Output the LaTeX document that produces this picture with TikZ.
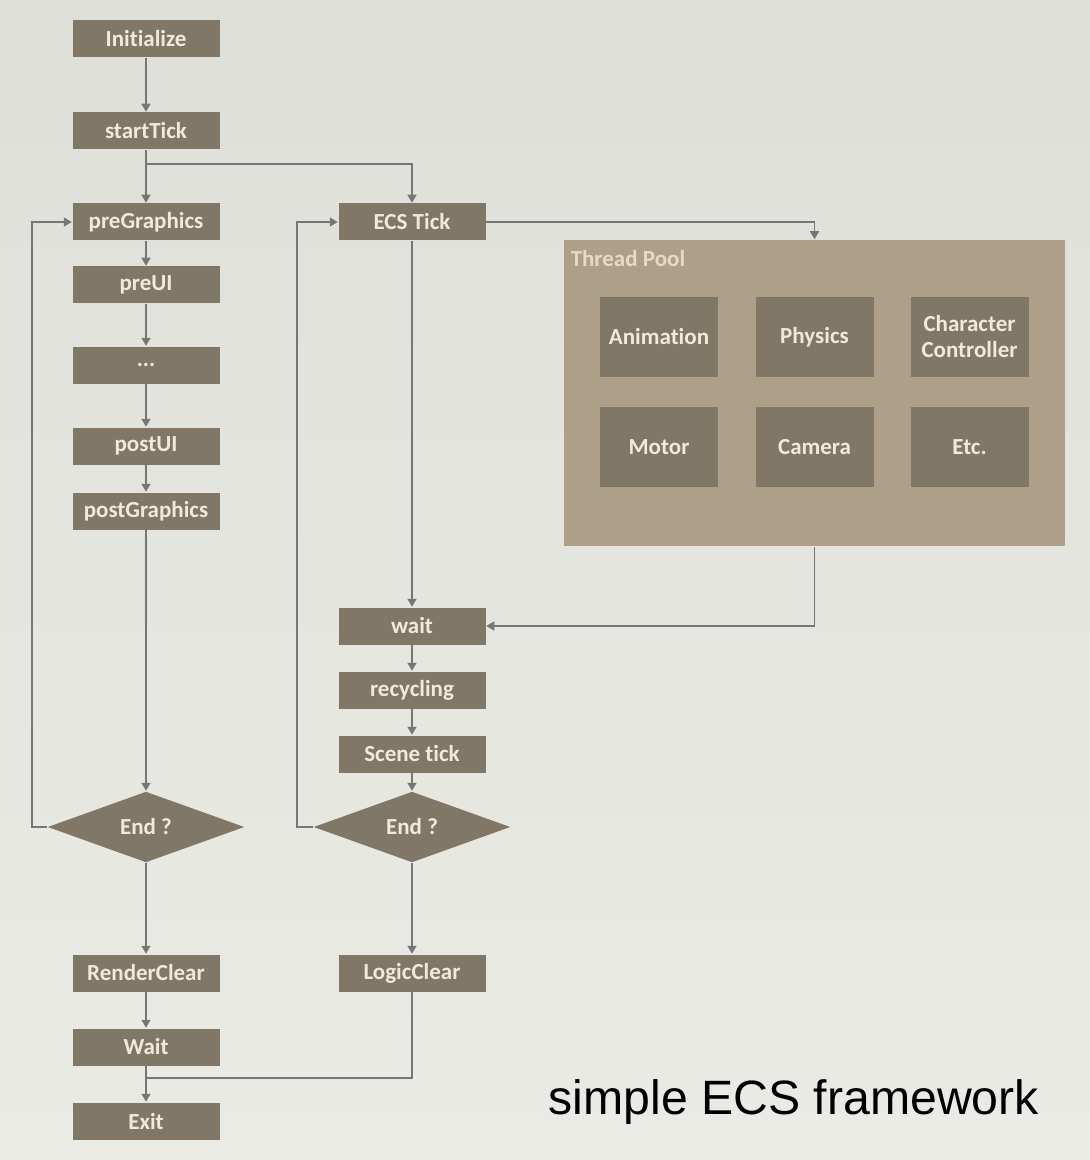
\documentclass[tikz,border=0pt]{standalone}
\usepackage{fontspec}
\setmainfont{Carlito}[Ligatures=NoCommon]
\newfontfamily\titlefont{Liberation Sans}
\usetikzlibrary{positioning,shapes.geometric,arrows.meta}
\definecolor{bgtop}{HTML}{DFDFDA}
\definecolor{bgbottom}{HTML}{EBEBE6}
\definecolor{boxfill}{HTML}{807766}
\definecolor{boxtext}{HTML}{F2EAD8}
\definecolor{poolfill}{HTML}{AEA088}
\definecolor{pooltext}{HTML}{E6DAC2}
\definecolor{linecol}{HTML}{767676}

\begin{document}
\begin{tikzpicture}
	[x=0.5pt, y=-0.5pt, line width=0.75pt,
	every node/.style={font=\bfseries\fontsize{11.5}{13}\selectfont, text=boxtext},
	stepbox/.style={fill=boxfill, minimum width=73.5pt, minimum height=18.5pt, inner sep=0pt},
	taskbox/.style={fill=boxfill, minimum width=59pt, minimum height=40pt, inner sep=0pt, align=center},
	decide/.style={diamond, fill=boxfill, minimum width=98.5pt, minimum height=35.5pt, inner sep=0pt},
	pool/.style={fill=poolfill, minimum width=250.5pt, minimum height=153pt, inner sep=0pt},
	line/.style={draw=linecol},
	flow/.style={line, -{Triangle[width=4.5pt,length=4pt]}}]

	% background
	\fill[top color=bgtop, bottom color=bgbottom] (0,0) rectangle (1090,1160);
	\useasboundingbox (0,0) rectangle (1090,1160);

	% render loop
	\node[stepbox] (init) at (146,39) {Initialize};
	\node[stepbox] (start) at (146,131) {startTick};
	\node[stepbox] (preG) at (146,222) {preGraphics};
	\node[stepbox] (preUI) at (146,285) {preUI};
	\node[stepbox] (dots) at (146,365) {...};
	\node[stepbox] (postUI) at (146,446) {postUI};
	\node[stepbox] (postG) at (146,511) {postGraphics};
	\node[decide] (endL) at (146,827) {End ?};
	\node[stepbox] (render) at (146,973) {RenderClear};
	\node[stepbox] (waitL) at (146,1047) {Wait};
	\node[stepbox] (exit) at (146,1121) {Exit};

	% logic loop
	\node[stepbox] (ecs) at (412,222) {ECS Tick};
	\node[stepbox] (wait) at (412,626) {wait};
	\node[stepbox] (recyc) at (412,690) {recycling};
	\node[stepbox] (scene) at (412,754) {Scene tick};
	\node[decide] (endM) at (412,827) {End ?};
	\node[stepbox] (logic) at (412,973) {LogicClear};

	% thread pool
	\node[pool] (pool) at (814.5,393) {};
	\node[anchor=north west, text=pooltext, inner sep=0pt] (pooltitle) at (570,250) {Thread Pool};
	\node[taskbox] (anim) at (659,337) {Animation};
	\node[taskbox] (phys) at (814.5,337) {Physics};
	\node[taskbox] (chara) at (969.5,337) {Character\\Controller};
	\node[taskbox] (motor) at (659,447) {Motor};
	\node[taskbox] (cam) at (814.5,447) {Camera};
	\node[taskbox] (etc) at (969.5,447) {Etc.};

	\node[anchor=base west, text=black, inner sep=0pt, font=\titlefont\fontsize{24.1}{28}\selectfont] (title) at (548,1114) {simple ECS framework};

	% connectors
	\draw[flow] (init) -- (start);
	\draw[flow] (start) -- (preG);
	\draw[flow] (start.south) -- ++(0,14) -| (ecs.north);
	\draw[flow] (preG) -- (preUI);
	\draw[flow] (preUI) -- (dots);
	\draw[flow] (dots) -- (postUI);
	\draw[flow] (postUI) -- (postG);
	\draw[flow] (postG) -- (endL);
	\draw[flow] (endL.west) -- ++(-15,0) |- (preG.west);
	\draw[flow] (endL) -- (render);
	\draw[flow] (render) -- (waitL);
	\draw[flow] (waitL) -- (exit);

	\draw[flow] (ecs.east) -| (pool.north);
	\draw[flow] (ecs) -- (wait);
	\draw[flow] (pool.south) |- (wait.east);
	\draw[flow] (wait) -- (recyc);
	\draw[flow] (recyc) -- (scene);
	\draw[flow] (scene) -- (endM);
	\draw[flow] (endM.west) -- ++(-16,0) |- (ecs.west);
	\draw[flow] (endM) -- (logic);
	\coordinate (join) at (146,1078);
	\draw[line] (logic.south) |- (join);
\end{tikzpicture}
\end{document}
